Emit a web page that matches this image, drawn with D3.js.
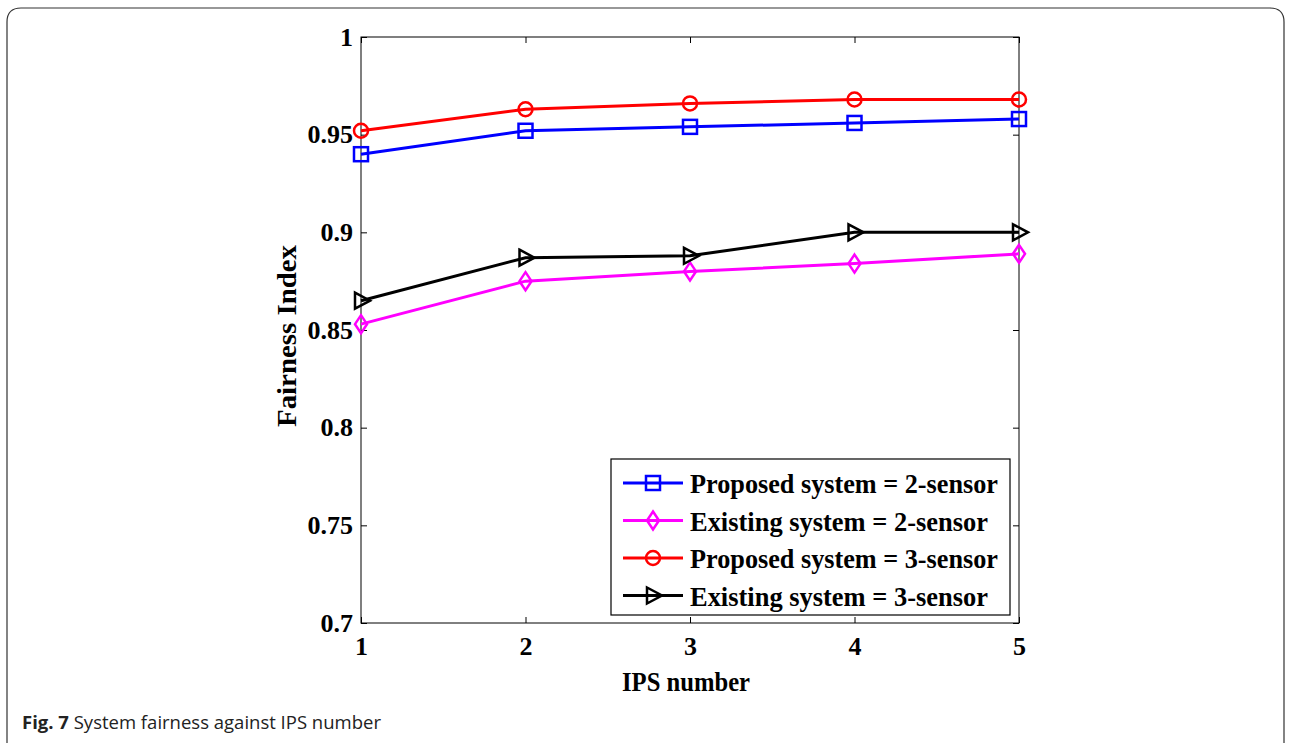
<!DOCTYPE html>
<html><head><meta charset="utf-8">
<script src="https://cdn.jsdelivr.net/npm/d3@7/dist/d3.min.js"></script>
<style>body{margin:0;background:#fff}svg{display:block}</style>
</head><body>
<svg id="c" width="1291" height="743"></svg>
<script>
const ipsNumbers = [1, 2, 3, 4, 5];
const proposed2 = [0.940, 0.952, 0.954, 0.956, 0.958];
const existing2 = [0.853, 0.875, 0.880, 0.884, 0.889];
const proposed3 = [0.952, 0.963, 0.966, 0.968, 0.968];
const existing3 = [0.865, 0.887, 0.888, 0.900, 0.900];
const seriesNames = ["Proposed system = 2-sensor", "Existing system = 2-sensor", "Proposed system = 3-sensor", "Existing system = 3-sensor"];
const yTicks = [0.7, 0.75, 0.8, 0.85, 0.9, 0.95, 1];
const yTickLabels = ["0.7", "0.75", "0.8", "0.85", "0.9", "0.95", "1"];

const series = [
  {name: seriesNames[0], values: proposed2, color: "#0000ff", marker: "square"},
  {name: seriesNames[1], values: existing2, color: "#ff00ff", marker: "diamond"},
  {name: seriesNames[2], values: proposed3, color: "#ff0000", marker: "circle"},
  {name: seriesNames[3], values: existing3, color: "#000000", marker: "triangle"}
];

const svg = d3.select("#c");
const L = 361, R = 1019, T = 37, B = 623;
const x = d3.scaleLinear().domain([1, 5]).range([L, R]);
const y = d3.scaleLinear().domain([0.7, 1]).range([B, T]);

// outer frame
svg.append("path")
  .attr("d", "M7,760 L7,22 Q7,8 21,8 L1270,8 Q1284,8 1284,22 L1284,760")
  .attr("fill", "none").attr("stroke", "#333").attr("stroke-width", 1.2);

const serif = "'Liberation Serif','Times New Roman',serif";
const g = svg.append("g");

// axes box
g.append("rect").attr("x", L).attr("y", T).attr("width", R - L).attr("height", B - T)
  .attr("fill", "none").attr("stroke", "#000").attr("stroke-width", 1);

const tl = 6;
const xAxB = d3.axisBottom(x).tickValues(ipsNumbers).tickSize(-tl).tickFormat(d3.format("d")).tickPadding(14);
const xAxT = d3.axisTop(x).tickValues(ipsNumbers).tickSize(-tl).tickFormat("");
const yAxL = d3.axisLeft(y).tickValues(yTicks).tickSize(-tl).tickFormat((d, i) => yTickLabels[i]).tickPadding(8);
const yAxR = d3.axisRight(y).tickValues(yTicks).tickSize(-tl).tickFormat("");

function styleAxis(sel) {
  sel.select(".domain").remove();
  sel.selectAll(".tick line").attr("stroke", "#000");
  sel.selectAll("text").attr("font-family", serif).attr("font-weight", "bold")
    .attr("font-size", 26).attr("fill", "#000");
}
g.append("g").attr("transform", `translate(0,${B})`).call(xAxB).call(styleAxis);
g.append("g").attr("transform", `translate(0,${T})`).call(xAxT).call(styleAxis);
g.append("g").attr("transform", `translate(${L},0)`).call(yAxL).call(styleAxis);
g.append("g").attr("transform", `translate(${R},0)`).call(yAxR).call(styleAxis);

// axis titles
svg.append("text").attr("x", 622).attr("y", 691)
  .attr("font-family", serif).attr("font-weight", "bold").attr("font-size", 28)
  .attr("textLength", 128).attr("lengthAdjust", "spacingAndGlyphs").text("IPS number");
svg.append("text").attr("transform", `translate(296,427) rotate(-90)`)
  .attr("font-family", serif).attr("font-weight", "bold").attr("font-size", 28)
  .attr("textLength", 182).attr("lengthAdjust", "spacingAndGlyphs").text("Fairness Index");

function drawMarker(sel, type, color) {
  const s = 7;
  if (type === "square") sel.append("rect").attr("x", -s).attr("y", -s).attr("width", 2 * s).attr("height", 2 * s);
  else if (type === "circle") sel.append("circle").attr("r", s);
  else if (type === "diamond") sel.append("path").attr("d", `M0,${-s - 2}L${s - 1},0L0,${s + 2}L${-s + 1},0Z`);
  else sel.append("path").attr("d", `M${-s + 1},${-s - 1}L${s + 2},0L${-s + 1},${s + 1}Z`);
  sel.selectAll("*").attr("fill", "none").attr("stroke", color).attr("stroke-width", 2.5);
}

const line = d3.line().x((d, i) => x(ipsNumbers[i])).y(d => y(d));
series.forEach(s => {
  g.append("path").datum(s.values).attr("d", line).attr("fill", "none")
    .attr("stroke", s.color).attr("stroke-width", 3);
  s.values.forEach((v, i) => {
    const m = g.append("g").attr("transform", `translate(${x(ipsNumbers[i])},${y(v)})`);
    drawMarker(m, s.marker, s.color);
  });
});

// legend
const lg = svg.append("g");
lg.append("rect").attr("x", 611).attr("y", 459).attr("width", 399).attr("height", 156)
  .attr("fill", "#fff").attr("stroke", "#000").attr("stroke-width", 1.2);
series.forEach((s, i) => {
  const cy = 483 + i * 37.5;
  lg.append("line").attr("x1", 623).attr("x2", 683).attr("y1", cy).attr("y2", cy)
    .attr("stroke", s.color).attr("stroke-width", 3);
  const m = lg.append("g").attr("transform", `translate(653,${cy})`);
  drawMarker(m, s.marker, s.color);
  lg.append("text").attr("x", 690).attr("y", cy + 10).attr("font-family", serif)
    .attr("font-weight", "bold").attr("font-size", 28).attr("textLength", s.name.startsWith("Proposed") ? 308 : 298)
    .attr("lengthAdjust", "spacingAndGlyphs").text(s.name);
});

// caption
const cap = svg.append("text").attr("x", 22).attr("y", 729).attr("font-family", "'Open Sans',sans-serif").attr("font-size", 18.5).attr("fill", "#222");
cap.append("tspan").attr("font-weight", "bold").text("Fig. 7");
cap.append("tspan").text(" System fairness against IPS number");
</script>
</body></html>
